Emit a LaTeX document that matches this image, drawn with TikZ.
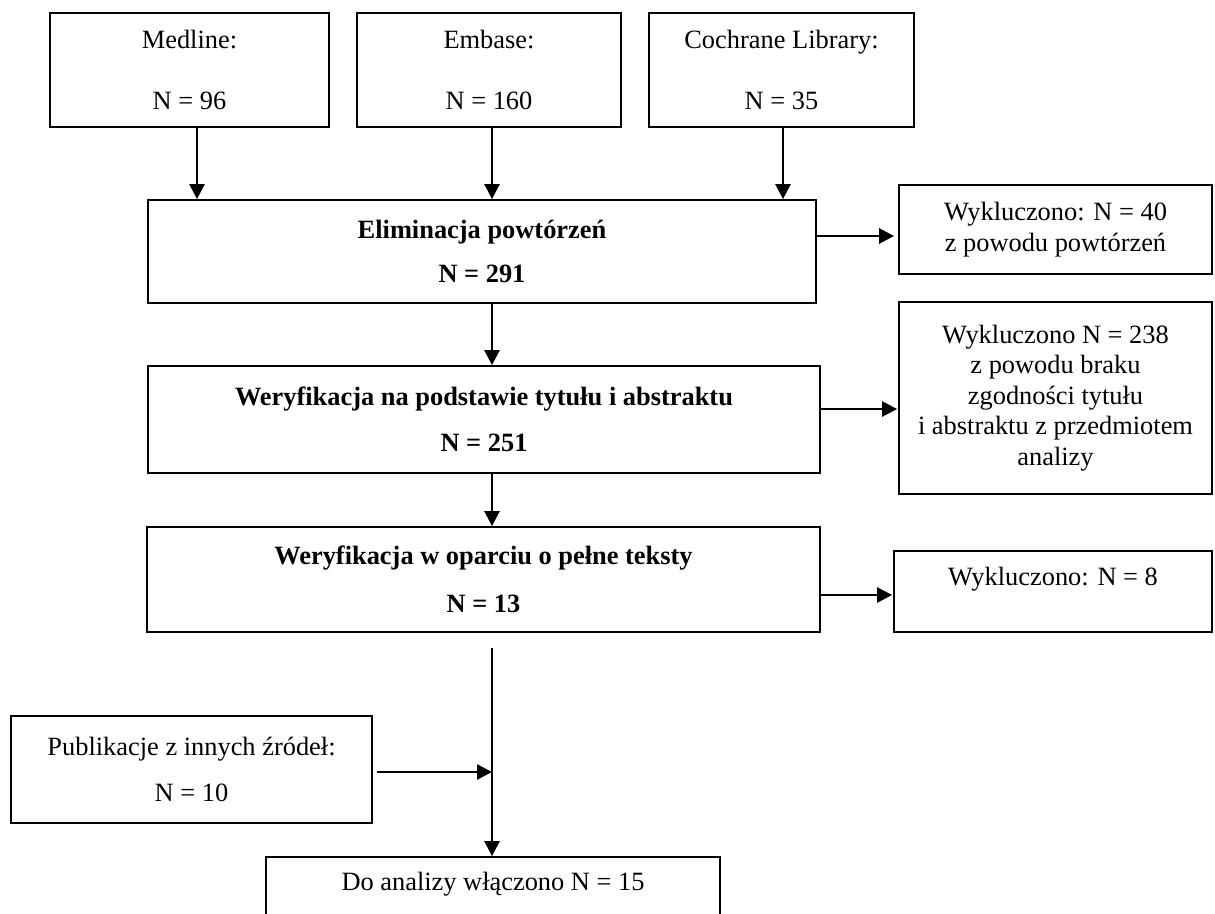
\documentclass[tikz,border=0pt]{standalone}
\usepackage{fontspec}
\setmainfont{Liberation Serif}
\usetikzlibrary{arrows.meta}
\tikzset{
  box/.style={draw=black, line width=1.8pt, inner sep=0pt, align=center,
    font=\fontsize{26.4}{30.5}\selectfont},
  txt/.style={inner sep=0pt, align=center, font=\fontsize{26.4}{30.5}\selectfont},
  arr/.style={line width=2.6pt, -{Triangle[width=15pt,length=15pt]}},
}
\begin{document}
\begin{tikzpicture}[x=1pt,y=-1pt]
\useasboundingbox (0,0) rectangle (1215,913);
% top sources
\node[box, minimum width=279pt, minimum height=114pt] (m) at (189.5,70) {Medline:\\[31pt]N = 96};
\node[box, minimum width=264pt, minimum height=114pt] (e) at (489,70) {Embase:\\[31pt]N = 160};
\node[box, minimum width=265pt, minimum height=114pt] (c) at (781.5,70) {Cochrane Library:\\[31pt]N = 35};
% main chain
\node[box, minimum width=668pt, minimum height=103pt] (elim) at (482,251.5) {\textbf{Eliminacja powtórzeń}\\[14pt]\textbf{N = 291}};
\node[box, minimum width=672pt, minimum height=107pt] (ver1) at (484,419.5) {\textbf{Weryfikacja na podstawie tytułu i abstraktu}\\[16pt]\textbf{N = 251}};
\node[box, minimum width=673pt, minimum height=105pt] (ver2) at (483.5,579.5) {\textbf{Weryfikacja w oparciu o pełne teksty}\\[18pt]\textbf{N = 13}};
% exclusions
\node[box, minimum width=313pt, minimum height=89pt] (ex1) at (1055.5,229.5) {Wykluczono: N = 40\\z powodu powtórzeń};
\node[box, minimum width=313pt, minimum height=192pt] (ex2) at (1055.5,398) {Wykluczono N = 238\\z powodu braku\\zgodności tytułu\\i abstraktu z przedmiotem\\analizy};
\node[box, minimum width=318pt, minimum height=81pt] (ex3) at (1053,591.5) {};
\node[txt] (ex3t) at ([yshift=12.5pt]ex3.center) {Wykluczono: N = 8};
% other sources and final
\node[box, minimum width=361pt, minimum height=107pt] (pub) at (191.5,769.5) {Publikacje z innych źródeł:\\[16pt]N = 10};
\node[box, minimum width=454pt, minimum height=66pt] (fin) at (493,890) {};
\node[txt] (fint) at (493,884) {Do analizy włączono N = 15};
% arrows from sources
\draw[arr] ([xshift=7.5pt]m.south) -- ([xshift=7.5pt]m.south |- elim.north);
\draw[arr] ([xshift=3pt]e.south) -- ([xshift=3pt]e.south |- elim.north);
\draw[arr] ([xshift=1.5pt]c.south) -- ([xshift=1.5pt]c.south |- elim.north);
% main chain arrows
\draw[arr] ([xshift=10pt]elim.south) -- ([xshift=10pt]elim.south |- ver1.north);
\draw[arr] ([xshift=8pt]ver1.south) -- ([xshift=8pt]ver1.south |- ver2.north);
\draw[arr, shorten <=15pt] ([xshift=8.5pt]ver2.south) coordinate (vs) -- (vs |- fin.north);
% side arrows
\draw[arr, shorten >=4pt] ([yshift=15.5pt]elim.east) -- ([yshift=15.5pt]elim.east -| ex1.west);
\draw[arr, shorten >=1pt] ([yshift=10.5pt]ver1.east) -- ([yshift=10.5pt]ver1.east -| ex2.west);
\draw[arr, shorten >=1pt] ([yshift=-15.5pt]ver2.east) -- ([yshift=-15.5pt]ver2.east -| ex3.west);
\draw[arr, shorten <=4pt] ([yshift=-2.5pt]pub.east) -- ([yshift=-2.5pt]pub.east -| vs);
\end{tikzpicture}
\end{document}
